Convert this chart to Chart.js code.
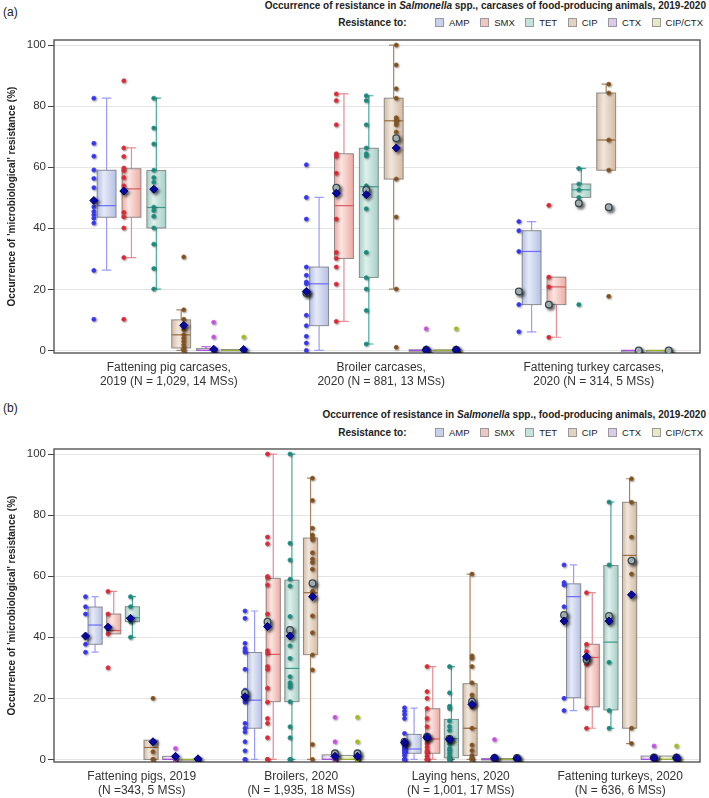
<!DOCTYPE html>
<html>
<head>
<meta charset="utf-8">
<script src="https://cdn.jsdelivr.net/npm/chart.js"></script>
<style>
    body { margin: 0; width: 709px; height: 798px; background: #fff; overflow: hidden;
           font-family: 'Liberation Sans', Arial, sans-serif; color: #222 }
    .panel { position: relative; width: 709px; height: 399px }
    .panel canvas { position: absolute; left: 0; top: 0 }
    .tag { position: absolute; left: 3px; font-size: 12px }
    .title { position: absolute; right: 3px; font-size: 10px; font-weight: bold; white-space: nowrap }
    .legend { position: absolute; right: 6px; font-size: 9.5px; display: flex; align-items: center; white-space: nowrap }
    .legend b { font-size: 10px; margin-right: 18px }
    .legend span { display: flex; align-items: center; margin-left: 10.5px }
    .legend i { display: inline-block; width: 7px; height: 7px; border: 1px solid #999; margin-right: 5px }
</style>
</head>
<body>
<div class="panel" id="panelA">
    <div class="tag" style="top:5px">(a)</div>
    <div class="title" style="top:0px">Occurrence of resistance in <i>Salmonella</i> spp., carcases of food-producing animals, 2019-2020</div>
    <div class="legend" style="top:17px"></div>
    <canvas id="chartA" width="709" height="399"></canvas>
</div>
<div class="panel" id="panelB">
    <div class="tag" style="top:2px">(b)</div>
    <div class="title" style="top:10px">Occurrence of resistance in <i>Salmonella</i> spp., food-producing animals, 2019-2020</div>
    <div class="legend" style="top:28px"></div>
    <canvas id="chartB" width="709" height="399"></canvas>
</div>
<script>
// antimicrobials, in plotting order
const antimicrobials = ['AMP', 'SMX', 'TET', 'CIP', 'CTX', 'CIP/CTX']

// (a) carcases
const aLabels = [
    ['Fattening pig carcases,', '2019 (N = 1,029, 14 MSs)'],
    ['Broiler carcases,', '2020 (N = 881, 13 MSs)'],
    ['Fattening turkey carcases,', '2020 (N = 314, 5 MSs)']
]

// points = values per MS, box = [low whisker, Q1, median, Q3, high whisker]
const pigCarcPoints = [
    [82.6, 67.8, 63.6, 59.1, 56.3, 53.3, 49.2, 47.0, 45.5, 44.4, 43.3, 41.7, 26.2, 10.2],
    [88.3, 66.3, 63.5, 59.7, 58.9, 56.6, 53.9, 52.2, 45.2, 43.7, 40.1, 30.4, 10.2],
    [82.6, 72.8, 67.6, 59.0, 56.6, 55.1, 52.8, 46.9, 45.8, 43.9, 40.1, 34.8, 26.8, 20.1],
    [30.6, 13.3, 10.2, 8.0, 6.8, 5.1, 4.0, 2.9, 1.8, 0.8, 0, 0],
    [9.2, 4.4, 0.6, 0, 0, 0],
    [4.4, 0, 0, 0]
]
const pigCarcBox = [[26.3, 43.6, 47.4, 59.0, 82.6], [30.4, 43.6, 52.9, 59.5, 66.3], [20.1, 40.1, 46.8, 58.9, 82.6],
    [0, 0.8, 5.1, 10.0, 13.3], [0, 0, 0, 0.6, 1.2], [0, 0, 0, 0.3, 0.3]]
const pigCarcMean = [49.1, 52.2, 52.8, 8.2, 0.4, 0.3]
const pigCarcCircle = [null, null, null, null, null, null]

const broilerCarcPoints = [
    [60.8, 50.1, 43.0, 27.3, 24.6, 22.4, 21.8, 18.8, 11.5, 8.1, 4.6, 2.4, 0],
    [84.0, 81.8, 73.9, 64.4, 63.5, 58.0, 52.0, 43.0, 32.1, 30.1, 27.3, 21.7, 9.5],
    [83.4, 81.8, 73.9, 66.3, 64.4, 63.7, 53.9, 46.4, 32.1, 23.8, 20.1, 13.1, 2.1],
    [100, 93.5, 85.7, 82.6, 76.2, 75.5, 74.8, 73.9, 71.5, 56.1, 43.7, 20.1, 1.0],
    [7.1, 0, 0, 0],
    [7.1, 0, 0, 0]
]
const broilerCarcBox = [[0, 8.1, 21.8, 27.3, 50.1], [9.5, 30.1, 47.4, 64.4, 84.0], [2.1, 23.9, 53.6, 66.2, 83.4],
    [20.1, 56.1, 75.2, 82.6, 100], [0, 0, 0, 0.2, 0.2], [0, 0, 0, 0.2, 0.2]]
const broilerCarcMean = [19.3, 51.5, 51.0, 66.3, 0.2, 0.2]
const broilerCarcCircle = [18.8, 53.3, 52.6, 69.5, 0.2, 0.2]

const turkeyCarcPoints = [
    [42.2, 39.2, 32.4, 15.0, 6.1],
    [47.5, 24.0, 20.8, 15.0, 4.3],
    [59.6, 54.5, 52.6, 50.1, 15.0],
    [87.2, 84.3, 68.9, 59.0, 17.7],
    [0, 0, 0, 0, 0],
    [0, 0, 0, 0, 0]
]
const turkeyCarcBox = [[6.1, 15.0, 32.4, 39.2, 42.2], [4.3, 15.0, 20.8, 24.0, 24.0], [50.1, 50.1, 52.6, 54.5, 59.6],
    [59.0, 59.0, 68.9, 84.3, 87.2], [0, 0, 0, 0, 0], [0, 0, 0, 0, 0]]
const turkeyCarcMean = [null, null, null, null, null, null]
const turkeyCarcCircle = [19.3, 15.0, 48.2, 46.9, 0, 0]

// (b) food-producing animals
const bLabels = [
    ['Fattening pigs, 2019', '(N =343, 5 MSs)'],
    ['Broilers, 2020', '(N = 1,935, 18 MSs)'],
    ['Laying hens, 2020', '(N = 1,001, 17 MSs)'],
    ['Fattening turkeys, 2020', '(N = 636, 6 MSs)']
]

const pigsPoints = [
    [53.3, 50.0, 47.6, 40.4, 37.7, 35.1],
    [55.0, 47.6, 43.3, 41.1, 30.0],
    [53.3, 50.0, 46.4, 45.1, 40.0],
    [20.0, 6.0, 2.5, 0, 0],
    [3.6, 1.0, 0, 0, 0],
    [0, 0, 0, 0, 0]
]
const pigsBox = [[35.1, 37.7, 44.0, 49.9, 53.3], [41.1, 41.1, 42.2, 47.6, 55.0], [40.0, 45.1, 46.4, 50.0, 53.3],
    [0, 0, 3.9, 6.3, 6.3], [0, 0, 0, 1.0, 1.0], [0, 0, 0, 0, 0]]
const pigsMean = [40.4, 43.3, 46.2, 5.8, 1.0, 0.2]
const pigsCircle = [null, null, null, null, null, null]

const broilersPoints = [
    [48.6, 46.2, 38.0, 36.4, 35.6, 35.1, 29.5, 22.7, 21.2, 19.4, 18.7, 11.8, 10.2, 9.0, 5.8, 2.8, 0, 0],
    [100, 72.8, 70.6, 59.9, 59.6, 57.1, 47.6, 35.6, 34.7, 30.4, 29.5, 23.3, 18.7, 13.4, 11.8, 7.1, 0, 0],
    [100, 70.8, 65.3, 59.0, 56.8, 46.8, 40.4, 37.2, 33.1, 27.1, 25.1, 24.4, 23.6, 18.9, 10.7, 7.1, 0, 0],
    [92.1, 84.8, 75.7, 73.5, 72.5, 71.9, 67.7, 65.6, 64.5, 62.3, 55.0, 54.6, 47.0, 41.5, 34.2, 29.3, 4.9, 0],
    [13.8, 5.8, 2.0, 1.0, 0, 0, 0, 0],
    [13.8, 5.8, 2.0, 1.0, 0, 0, 0, 0]
]
const broilersBox = [[0, 10.2, 19.4, 35.0, 48.6], [0, 18.9, 34.4, 59.3, 100], [0, 18.9, 29.8, 58.7, 100],
    [0, 34.3, 54.6, 72.5, 92.1], [0, 0, 0, 1.5, 1.5], [0, 0, 0, 1.3, 1.3]]
const broilersMean = [20.5, 43.5, 40.4, 53.3, 1.0, 1.0]
const broilersCircle = [21.8, 45.1, 42.4, 57.7, 2.0, 2.0]

const hensPoints = [
    [16.9, 15.8, 14.7, 13.4, 8.5, 5.8, 4.7, 4.2, 3.6, 3.2, 2.8, 2.4, 2.0, 1.2, 0, 0, 0],
    [30.4, 22.2, 20.0, 16.7, 13.4, 10.7, 8.0, 6.7, 5.1, 4.0, 2.9, 2.4, 2.0, 1.0, 0, 0, 0],
    [30.4, 21.8, 17.4, 16.7, 12.6, 10.8, 9.5, 6.8, 5.1, 3.6, 3.0, 2.0, 1.0, 0.3, 0, 0],
    [60.7, 33.9, 33.1, 30.4, 25.1, 21.1, 19.7, 17.2, 10.2, 4.7, 2.9, 1.3, 0.5, 0, 0, 0],
    [6.5, 1.0, 0, 0, 0],
    [1.0, 0, 0, 0]
]
const hensBox = [[0, 2.0, 3.4, 8.2, 16.8], [0, 2.0, 6.7, 16.6, 30.4], [0, 0.5, 6.8, 13.1, 30.4],
    [0, 1.3, 10.2, 24.8, 60.7], [0, 0, 0, 0.3, 0.3], [0, 0, 0, 0.3, 0.3]]
const hensMean = [5.5, 7.2, 6.6, 18.0, 0.5, 0.3]
const hensCircle = [5.8, 7.4, 6.8, 18.9, 0.5, 0.5]

const turkeysPoints = [
    [63.7, 57.9, 57.1, 50.0, 20.0, 16.0],
    [54.6, 37.7, 35.3, 31.2, 16.9, 10.2],
    [84.3, 63.7, 45.0, 31.8, 16.0, 10.2],
    [91.9, 84.2, 72.8, 60.7, 10.2, 5.2],
    [4.4, 1.0, 0, 0, 0, 0],
    [4.4, 1.0, 0, 0, 0, 0]
]
const turkeysBox = [[16.0, 20.2, 53.3, 57.5, 63.7], [10.2, 17.2, 33.4, 37.7, 54.6], [10.2, 16.2, 38.4, 63.5, 84.3],
    [5.2, 10.2, 66.8, 84.2, 91.9], [0, 0, 0, 1.1, 1.1], [0, 0, 0, 1.1, 1.1]]
const turkeysMean = [45.3, 33.6, 45.3, 53.9, 0.5, 0.5]
const turkeysCircle = [47.3, 32.6, 47.0, 65.1, 0.6, 0.6]

const yTicks = [0, 20, 40, 60, 80, 100]

// colours per antimicrobial
const pointColor = ['#3c3cff', '#e8303c', '#1e9688', '#8c5a24', '#d25cf0', '#b4c82c']
const whiskerColor = ['#9a9aff', '#e68c94', '#4aaa9c', '#a88462', '#a64ee0', '#9ab43a']
const boxColor = ['#b4c0e4', '#eeaaa2', '#a4d0c8', '#d4bca4', '#d4b8ec', '#dce4a8']
const boxLight = ['#e6eaf7', '#fbe6e2', '#e0f0ec', '#f0e6dc', '#f0e6f8', '#f2f4dc']
const medianColor = ['#6a6aff', '#d85a60', '#3a9a8c', '#9a6a3e', '#a64ee0', '#98b030']
const legendColor = ['#c8d0ea', '#f2c6c0', '#c6e2dc', '#e2d2c2', '#dccaee', '#e6eac2']

const POINT_STEP = 0.141
const BOX_STEP = 0.117
const BOX_W = 0.089

function buildLegend(panel) {
    const el = document.querySelector(panel + ' .legend')
    el.innerHTML = '<b>Resistance to:</b>' + antimicrobials.map((a, i) =>
        '<span><i style="background:' + legendColor[i] + '"></i>' + a + '</span>').join('')
}

function boxPlugin(groups) {
    return {
        id: 'boxes',
        beforeDatasetsDraw(chart) {
            const { ctx, chartArea, scales: { x, y } } = chart

            // frame
            ctx.save()
            ctx.strokeStyle = '#555'
            ctx.lineWidth = 1.4
            ctx.strokeRect(chartArea.left, chartArea.top, chartArea.right - chartArea.left, chartArea.bottom - chartArea.top)
            ctx.restore()

            const half = (x.getPixelForValue(BOX_W) - x.getPixelForValue(0)) / 2
            groups.forEach((g, gi) => {
                g.box.forEach((b, k) => {
                    const [lo, q1, med, q3, hi] = b
                    const cx = x.getPixelForValue(gi + (k - 2.5) * BOX_STEP)
                    ctx.save()
                    // whiskers
                    ctx.strokeStyle = whiskerColor[k]
                    ctx.lineWidth = 1.2
                    ctx.beginPath()
                    ctx.moveTo(cx, y.getPixelForValue(q3))
                    ctx.lineTo(cx, y.getPixelForValue(hi))
                    ctx.moveTo(cx, y.getPixelForValue(q1))
                    ctx.lineTo(cx, y.getPixelForValue(lo))
                    if (hi > q3) {
                        ctx.moveTo(cx - half / 2, y.getPixelForValue(hi))
                        ctx.lineTo(cx + half / 2, y.getPixelForValue(hi))
                    }
                    if (lo < q1) {
                        ctx.moveTo(cx - half / 2, y.getPixelForValue(lo))
                        ctx.lineTo(cx + half / 2, y.getPixelForValue(lo))
                    }
                    ctx.stroke()
                    // box
                    const top = y.getPixelForValue(q3)
                    const bottom = y.getPixelForValue(q1)
                    const grad = ctx.createLinearGradient(cx - half, 0, cx + half, 0)
                    grad.addColorStop(0, boxColor[k])
                    grad.addColorStop(0.35, boxLight[k])
                    grad.addColorStop(1, boxColor[k])
                    ctx.fillStyle = grad
                    ctx.fillRect(cx - half, top, half * 2, Math.max(bottom - top, 1.5))
                    ctx.strokeStyle = 'rgba(110,110,110,0.75)'
                    ctx.lineWidth = 1
                    ctx.strokeRect(cx - half, top, half * 2, Math.max(bottom - top, 1.5))
                    // median
                    ctx.strokeStyle = medianColor[k]
                    ctx.lineWidth = 1.2
                    ctx.beginPath()
                    ctx.moveTo(cx - half, y.getPixelForValue(med))
                    ctx.lineTo(cx + half, y.getPixelForValue(med))
                    ctx.stroke()
                    ctx.restore()
                })
            })
        }
    }
}

const shadowPlugin = {
    id: 'shadows',
    beforeDatasetDraw(chart, args) {
        const ds = chart.data.datasets[args.index]
        const ctx = chart.ctx
        ctx.shadowColor = ds.marker ? 'rgba(0,0,0,0.6)' : 'rgba(0,0,0,0.35)'
        ctx.shadowBlur = ds.marker ? 3 : 2
        ctx.shadowOffsetX = ds.marker ? 2 : 1
        ctx.shadowOffsetY = ds.marker ? 2 : 1
    },
    afterDatasetDraw(chart) {
        const ctx = chart.ctx
        ctx.shadowColor = 'rgba(0,0,0,0)'
        ctx.shadowBlur = 0
        ctx.shadowOffsetX = 0
        ctx.shadowOffsetY = 0
    }
}

function makeChart(id, labels, groups, xMin, xMax, topPad, bottomPad) {
    const markerData = key => groups.flatMap((g, gi) => g[key]
        .map((v, k) => v === null ? null : { x: gi + (k - 2.5) * POINT_STEP, y: v })
        .filter(p => p))

    const datasets = [
        {
            label: 'mean', marker: true, data: markerData('mean'),
            pointStyle: 'rectRot', pointRadius: 4, backgroundColor: '#0a0ab4', borderColor: '#00006a', borderWidth: 1
        },
        {
            label: 'circle', marker: true, data: markerData('circle'),
            pointStyle: 'circle', pointRadius: 3.3, backgroundColor: '#c8d6d8', borderColor: '#34484e', borderWidth: 1.3
        }
    ]
    antimicrobials.forEach((a, k) => {
        datasets.push({
            label: a,
            data: groups.flatMap((g, gi) => g.points[k].map(v => ({ x: gi + (k - 2.5) * POINT_STEP, y: v }))),
            pointRadius: 2,
            backgroundColor: pointColor[k],
            borderColor: pointColor[k],
            borderWidth: 0.8
        })
    })

    return new Chart(document.getElementById(id), {
        type: 'scatter',
        data: { datasets },
        plugins: [boxPlugin(groups), shadowPlugin],
        options: {
            responsive: false,
            animation: false,
            layout: { padding: { top: topPad, right: 9, left: 0, bottom: 0 } },
            plugins: { legend: { display: false }, tooltip: { enabled: false } },
            scales: {
                x: {
                    type: 'linear',
                    min: xMin,
                    max: xMax,
                    afterBuildTicks: axis => { axis.ticks = labels.map((l, i) => ({ value: i })) },
                    afterFit: s => { s.height = bottomPad },
                    grid: { display: false, drawTicks: false },
                    border: { display: false },
                    ticks: {
                        autoSkip: false,
                        maxRotation: 0,
                        padding: 7,
                        color: '#333',
                        font: { family: "'Liberation Sans', Arial", size: 12 },
                        callback: v => labels[v]
                    }
                },
                y: {
                    min: -0.85,
                    max: 101.65,
                    afterBuildTicks: axis => { axis.ticks = yTicks.map(v => ({ value: v })) },
                    afterFit: s => { s.width = 54 },
                    grid: { color: '#e4e4e4', tickColor: '#444', tickLength: 6 },
                    border: { display: false },
                    ticks: {
                        padding: 2,
                        color: '#333',
                        font: { family: "'Liberation Sans', Arial", size: 11.5 }
                    },
                    title: {
                        display: true,
                        text: "Occurrence of 'microbiological' resistance (%)",
                        color: '#222',
                        padding: { top: 6, bottom: 0 },
                        font: { family: "'Liberation Sans', Arial", size: 10, weight: 'bold' }
                    }
                }
            }
        }
    })
}

buildLegend('#panelA')
buildLegend('#panelB')

makeChart('chartA', aLabels, [
    { points: pigCarcPoints, box: pigCarcBox, mean: pigCarcMean, circle: pigCarcCircle },
    { points: broilerCarcPoints, box: broilerCarcBox, mean: broilerCarcMean, circle: broilerCarcCircle },
    { points: turkeyCarcPoints, box: turkeyCarcBox, mean: turkeyCarcMean, circle: turkeyCarcCircle }
], -0.54, 2.5, 40, 46)

makeChart('chartB', bLabels, [
    { points: pigsPoints, box: pigsBox, mean: pigsMean, circle: pigsCircle },
    { points: broilersPoints, box: broilersBox, mean: broilersMean, circle: broilersCircle },
    { points: hensPoints, box: hensBox, mean: hensMean, circle: hensCircle },
    { points: turkeysPoints, box: turkeysBox, mean: turkeysMean, circle: turkeysCircle }
], -0.55, 3.5, 50, 36)
</script>
</body>
</html>
